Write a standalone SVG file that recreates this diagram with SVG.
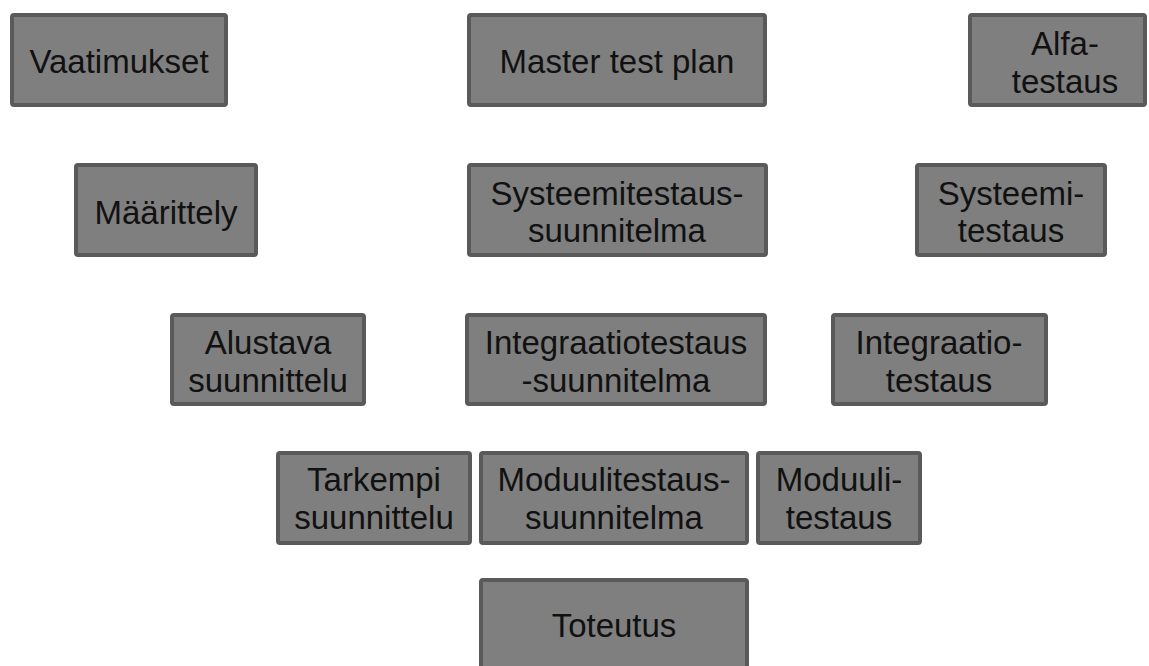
<svg xmlns="http://www.w3.org/2000/svg" width="1149" height="666" viewBox="0 0 1149 666">
<style>
.box{fill:#7f7f7f;stroke:#5a5a5a;stroke-width:4}
.t{font-family:"Liberation Sans",Arial,sans-serif;font-size:33px;fill:#111;text-anchor:middle}
</style>
<rect width="1149" height="666" fill="#fff"/>
<g id="connectors"></g>
<g id="vaatimukset"><rect class="box" x="12" y="15" width="214" height="90" rx="2"/><text class="t" x="119" y="73">Vaatimukset</text></g>
<g id="master"><rect class="box" x="469" y="15" width="296" height="90" rx="2"/><text class="t" x="617" y="73">Master test plan</text></g>
<g id="alfa"><rect class="box" x="970" y="15" width="175" height="90" rx="2"/><text class="t" x="1065" y="55">Alfa-</text><text class="t" x="1065" y="93">testaus</text></g>
<g id="maarittely"><rect class="box" x="76" y="165" width="180" height="90" rx="2"/><text class="t" x="166" y="224">Määrittely</text></g>
<g id="systeemisuunnitelma"><rect class="box" x="469" y="165" width="297" height="90" rx="2"/><text class="t" x="617" y="205">Systeemitestaus-</text><text class="t" x="617" y="242">suunnitelma</text></g>
<g id="systeemitestaus"><rect class="box" x="917" y="165" width="188" height="90" rx="2"/><text class="t" x="1011" y="205">Systeemi-</text><text class="t" x="1011" y="242">testaus</text></g>
<g id="alustava"><rect class="box" x="172" y="315" width="192" height="89" rx="2"/><text class="t" x="268" y="354">Alustava</text><text class="t" x="268" y="392">suunnittelu</text></g>
<g id="integraatiosuunnitelma"><rect class="box" x="467" y="315" width="298" height="89" rx="2"/><text class="t" x="616" y="354">Integraatiotestaus</text><text class="t" x="616" y="392">-suunnitelma</text></g>
<g id="integraatiotestaus"><rect class="box" x="833" y="315" width="213" height="89" rx="2"/><text class="t" x="939" y="354">Integraatio-</text><text class="t" x="939" y="392">testaus</text></g>
<g id="tarkempi"><rect class="box" x="278" y="453" width="192" height="90" rx="2"/><text class="t" x="374" y="491">Tarkempi</text><text class="t" x="374" y="529">suunnittelu</text></g>
<g id="moduulisuunnitelma"><rect class="box" x="481" y="453" width="266" height="90" rx="2"/><text class="t" x="614" y="491">Moduulitestaus-</text><text class="t" x="614" y="529">suunnitelma</text></g>
<g id="moduulitestaus"><rect class="box" x="758" y="453" width="162" height="90" rx="2"/><text class="t" x="839" y="491">Moduuli-</text><text class="t" x="839" y="529">testaus</text></g>
<g id="toteutus"><rect class="box" x="481" y="580" width="266" height="100" rx="2"/><text class="t" x="614" y="637">Toteutus</text></g>
</svg>
